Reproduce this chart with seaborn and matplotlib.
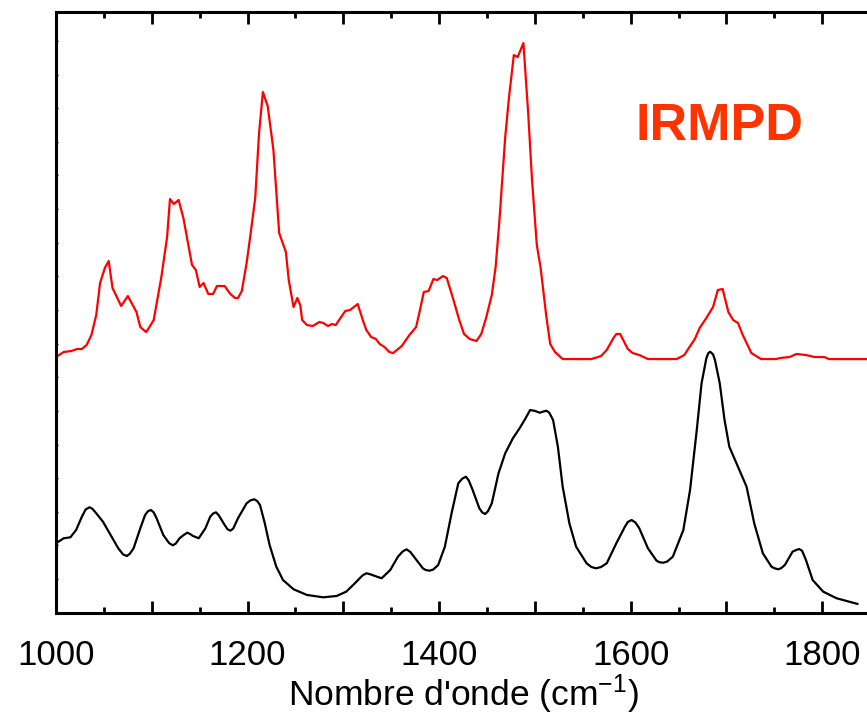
import matplotlib
matplotlib.use("Agg")
import matplotlib.pyplot as plt
import seaborn as sns
import pandas as pd
from matplotlib.ticker import MultipleLocator, FuncFormatter

# spectre calculé (noir)
calc_x = [1000, 1008, 1015, 1021, 1027, 1031, 1035, 1038, 1042, 1049, 1056, 1065, 1070, 1074,
          1077, 1081, 1088, 1093, 1096, 1099, 1102, 1105, 1112, 1118, 1122, 1125, 1129, 1133,
          1137, 1140, 1143, 1149, 1156, 1161, 1164, 1167, 1170, 1175, 1179, 1182, 1185, 1190,
          1199, 1203, 1207, 1210, 1213, 1218, 1223, 1230, 1237, 1248, 1262, 1279, 1293, 1303,
          1312, 1320, 1324, 1328, 1333, 1340, 1349, 1357, 1362, 1366, 1370, 1375, 1383, 1386,
          1390, 1394, 1399, 1406, 1413, 1420, 1424, 1428, 1431, 1435, 1442, 1445, 1448, 1451,
          1455, 1462, 1469, 1477, 1484, 1490, 1495, 1500, 1505, 1509, 1512, 1515, 1519, 1524,
          1529, 1536, 1543, 1554, 1559, 1564, 1569, 1575, 1585, 1594, 1597, 1601, 1605, 1609,
          1618, 1627, 1630, 1634, 1638, 1644, 1655, 1662, 1669, 1674, 1679, 1681, 1683, 1686,
          1688, 1693, 1698, 1703, 1712, 1721, 1729, 1738, 1747, 1750, 1754, 1757, 1761, 1769,
          1773, 1776, 1779, 1783, 1790, 1801, 1815, 1837]
calc_y = [11.55, 12.39, 12.55, 13.77, 15.98, 17.20, 17.55, 17.30, 16.55, 15.15, 13.22, 10.72,
          9.70, 9.44, 9.80, 10.72, 14.05, 16.26, 16.90, 17.10, 16.70, 15.72, 12.94, 11.60,
          11.22, 11.50, 12.39, 12.90, 13.32, 13.10, 12.77, 12.39, 14.05, 15.98, 16.50, 16.71,
          16.20, 14.88, 13.90, 13.65, 14.00, 15.72, 18.21, 18.70, 18.88, 18.60, 17.93, 14.88,
          11.27, 7.66, 5.44, 3.90, 2.95, 2.56, 2.78, 3.50, 4.89, 6.20, 6.56, 6.40, 6.11, 5.73,
          7.11, 9.32, 10.20, 10.55, 10.10, 9.06, 7.39, 7.10, 6.99, 7.20, 7.94, 10.99, 16.55,
          21.54, 22.30, 22.64, 22.00, 20.43, 17.38, 16.70, 16.43, 16.90, 18.21, 23.21, 26.54,
          29.03, 30.70, 32.30, 33.74, 33.60, 33.29, 33.50, 33.63, 33.30, 32.08, 27.63, 20.98,
          14.88, 10.99, 8.22, 7.60, 7.39, 7.60, 8.22, 11.55, 14.32, 15.10, 15.43, 15.00, 14.05,
          10.72, 8.66, 8.40, 8.32, 8.50, 9.32, 13.77, 20.43, 30.41, 38.19, 42.35, 43.20, 43.45,
          43.00, 42.07, 38.19, 32.08, 27.63, 24.31, 20.98, 14.88, 9.89, 7.66, 7.40, 7.22, 7.40,
          7.94, 10.15, 10.45, 10.60, 10.30, 8.77, 5.44, 3.50, 2.40, 1.45]

# spectre IRMPD (rouge)
irmpd_x = [1000, 1008, 1016, 1022, 1027, 1032, 1037, 1042, 1046, 1051, 1055, 1059, 1068, 1075,
           1084, 1088, 1094, 1097, 1102, 1110, 1116, 1119, 1123, 1128, 1133, 1142, 1146, 1150,
           1154, 1159, 1164, 1168, 1176, 1182, 1187, 1190, 1194, 1199, 1203, 1208, 1212, 1216,
           1221, 1227, 1233, 1240, 1243, 1248, 1252, 1255, 1257, 1262, 1268, 1275, 1279, 1284,
           1288, 1292, 1302, 1307, 1311, 1315, 1321, 1324, 1329, 1334, 1338, 1343, 1348, 1352,
           1361, 1369, 1376, 1380, 1384, 1389, 1394, 1398, 1404, 1408, 1415, 1421, 1426, 1432,
           1439, 1444, 1449, 1455, 1459, 1463, 1469, 1473, 1478, 1482, 1488, 1493, 1497, 1502,
           1506, 1512, 1516, 1521, 1529, 1547, 1559, 1569, 1575, 1582, 1585, 1589, 1597, 1602,
           1609, 1618, 1648, 1656, 1660, 1667, 1672, 1679, 1686, 1691, 1696, 1702, 1707, 1712,
           1717, 1726, 1736, 1752, 1756, 1766, 1773, 1783, 1792, 1802, 1807, 1850]
irmpd_y = [42.57, 43.40, 43.57, 43.90, 43.90, 44.57, 46.24, 49.57, 54.89, 57.39, 58.56, 54.06,
           51.06, 52.72, 50.06, 47.56, 46.73, 47.40, 48.73, 55.89, 62.55, 68.88, 68.04, 68.71,
           65.71, 57.89, 57.05, 54.22, 54.89, 53.06, 53.06, 54.39, 54.39, 53.06, 52.39, 52.39,
           53.56, 58.22, 62.89, 69.04, 79.86, 86.68, 84.35, 77.03, 63.22, 60.05, 55.39, 50.89,
           52.39, 51.23, 48.73, 47.89, 47.73, 48.40, 48.23, 47.73, 48.06, 47.89, 50.23, 50.39,
           50.89, 51.39, 48.40, 47.06, 45.90, 45.56, 44.73, 44.23, 43.40, 43.23, 44.40, 46.24,
           47.56, 50.39, 53.39, 53.56, 55.55, 55.39, 56.05, 55.72, 52.06, 48.73, 46.40, 45.56,
           45.23, 46.40, 49.06, 52.89, 57.55, 65.37, 79.19, 85.85, 92.84, 92.51, 94.84, 83.18,
           72.03, 61.22, 57.39, 49.23, 44.73, 43.40, 42.23, 42.23, 42.23, 42.73, 43.73, 45.73,
           46.40, 46.40, 43.90, 43.23, 42.90, 42.23, 42.23, 42.90, 43.90, 45.56, 47.40, 49.06,
           50.89, 53.72, 53.89, 50.06, 48.73, 48.23, 46.24, 43.23, 42.23, 42.23, 42.40, 42.57,
           43.07, 42.90, 42.57, 42.57, 42.23, 42.23]

sns.set_style("ticks")
plt.rcParams['font.family'] = ['Liberation Sans', 'DejaVu Sans']
plt.rcParams['mathtext.default'] = 'regular'

fig = plt.figure(figsize=(8.67, 7.15), dpi=100)
ax = fig.add_axes([0.0646, 0.1431, 0.939, 0.840])

df_calc = pd.DataFrame({"x": calc_x, "y": calc_y})
df_irmpd = pd.DataFrame({"x": irmpd_x, "y": irmpd_y})
sns.lineplot(data=df_calc, x="x", y="y", color="black", linewidth=1.6, estimator=None, ax=ax)
sns.lineplot(data=df_irmpd, x="x", y="y", color="#ff0000", linewidth=1.6, estimator=None, ax=ax)

ax.set_xlim(1000, 1850)
ax.set_ylim(0, 100)

# graduations : majeures tous les 100, étiquettes tous les 200, mineures tous les 50
ax.xaxis.set_major_locator(MultipleLocator(100))
ax.xaxis.set_minor_locator(MultipleLocator(50))
ax.xaxis.set_major_formatter(FuncFormatter(lambda v, p: f"{v:.0f}" if round(v) % 200 == 0 else ""))
ax.yaxis.set_major_locator(MultipleLocator(5.6))
ax.tick_params(axis='x', which='major', direction='in', length=8.5, width=2,
               top=True, labelsize=25, pad=19, colors='black')
ax.tick_params(axis='x', which='minor', direction='in', length=4.3, width=2, top=True,
               colors='black')
ax.tick_params(axis='y', which='major', direction='in', length=1.5, width=1,
               labelleft=False, colors='black')

for side in ['left', 'bottom', 'top', 'right']:
    ax.spines[side].set_linewidth(2.2)
    ax.spines[side].set_color('black')

ax.set_xlabel("Nombre d'onde (cm$^{-1}$)", fontsize=25.5, labelpad=0, color='black')
ax.set_ylabel("")

ax.text(1693, 81, "IRMPD", color="#ff3300", fontsize=37.5, fontweight="bold",
        ha="center", va="center")

fig.savefig("out.png", dpi=100)
